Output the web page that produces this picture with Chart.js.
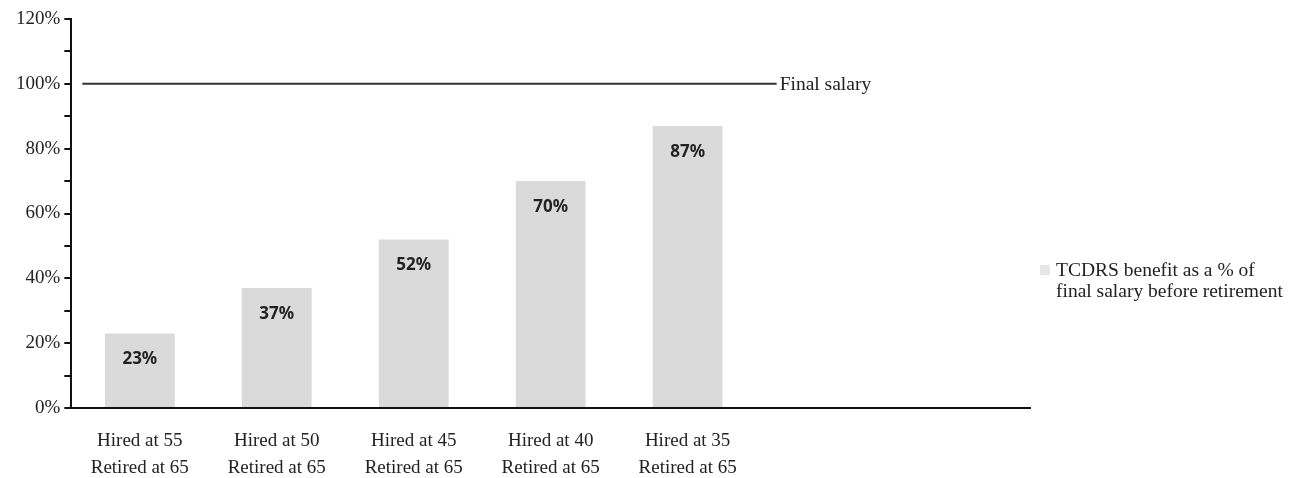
<!DOCTYPE html>
<html lang="en">
<head>
  <meta charset="UTF-8">
  <title>TCDRS benefit as a % of final salary</title>
  <style>
    * { margin: 0; padding: 0; box-sizing: border-box; }
    body { background: #fff; width: 1291px; height: 478px; overflow: hidden; position: relative; }
    #wrap { position: absolute; left: 0; top: 0; width: 1291px; height: 478px; }
    #legend {
      position: absolute; left: 1040px; top: 259px;
      font-family: "Liberation Serif", serif; font-size: 19.5px; line-height: 21px; color: #222;
      display: flex; align-items: flex-start;
    }
    #legend .box { width: 10px; height: 10px; background: #e6e6e6; margin: 6px 6px 0 0; }
  </style>
  <script src="https://cdn.jsdelivr.net/npm/chart.js"></script>
</head>
<body>
  <div id="wrap"><canvas id="chart" width="1291" height="478"></canvas></div>
  <div id="legend"><div class="box"></div><div>TCDRS benefit as a % of<br>final salary before retirement</div></div>

  <script>
    const categories = [
      ['Hired at 55', 'Retired at 65'],
      ['Hired at 50', 'Retired at 65'],
      ['Hired at 45', 'Retired at 65'],
      ['Hired at 40', 'Retired at 65'],
      ['Hired at 35', 'Retired at 65'],
      '',
      ''
    ];
    const benefitValues = [23, 37, 52, 70, 87, null, null];
    const finalSalaryLine = [{ x: 0.08, y: 100 }, { x: 5.15, y: 100 }];
    const yTicks = [0, 20, 40, 60, 80, 100, 120];

    const serif = '"Liberation Serif", serif';

    // values written inside the top of each bar, plus the line's label
    const barLabels = {
      id: 'barLabels',
      afterDatasetsDraw(chart) {
        const ctx = chart.ctx;
        const meta = chart.getDatasetMeta(0);
        ctx.save();
        ctx.font = 'bold 17px "Noto Sans", sans-serif';
        ctx.fillStyle = '#222';
        ctx.textAlign = 'center';
        ctx.textBaseline = 'middle';
        meta.data.forEach((bar, i) => {
          if (benefitValues[i] == null) return;
          ctx.fillText(benefitValues[i] + '%', bar.x, bar.y + 26);
        });
        const lineMeta = chart.getDatasetMeta(1);
        const last = lineMeta.data[lineMeta.data.length - 1];
        ctx.font = '19.5px ' + serif;
        ctx.textAlign = 'left';
        ctx.fillText('Final salary', last.x + 3, last.y + 1);
        ctx.restore();
      }
    };

    new Chart(document.getElementById('chart'), {
      type: 'bar',
      data: {
        labels: categories,
        datasets: [
          {
            type: 'bar',
            label: 'TCDRS benefit as a % of final salary before retirement',
            data: benefitValues,
            backgroundColor: '#dadada',
            grouped: false,
            barPercentage: 0.51,
            categoryPercentage: 1.0,
            xAxisID: 'x',
            order: 2
          },
          {
            type: 'line',
            label: 'Final salary',
            data: finalSalaryLine,
            borderColor: '#333',
            borderWidth: 2,
            pointRadius: 0,
            xAxisID: 'x2',
            order: 1
          }
        ]
      },
      options: {
        responsive: false,
        animation: false,
        layout: { padding: { top: 19, left: 12, right: 261, bottom: 0 } },
        plugins: { legend: { display: false }, tooltip: { enabled: false } },
        scales: {
          x: {
            type: 'category',
            offset: true,
            grid: { display: false },
            border: { color: '#111', width: 2 },
            ticks: { color: '#222', font: { family: serif, size: 19, lineHeight: 1.4 }, padding: 12, maxRotation: 0, autoSkip: false },
            afterFit(axis) { axis.height = 70; }
          },
          x2: { type: 'linear', min: 0, max: 7, offset: false, display: false },
          y: {
            min: 0, max: 120,
            afterBuildTicks(axis) {
              const t = [];
              for (let v = 0; v <= 120; v += 10) t.push({ value: v });
              axis.ticks = t;
            },
            border: { color: '#111', width: 2 },
            grid: { drawOnChartArea: false, tickLength: 7, color: '#111', lineWidth: 2 },
            ticks: {
              color: '#222',
              font: { family: serif, size: 19 },
              padding: 4,
              callback: v => (yTicks.includes(v) ? v + '%' : '')
            }
          }
        }
      },
      plugins: [barLabels]
    });
  </script>
</body>
</html>
